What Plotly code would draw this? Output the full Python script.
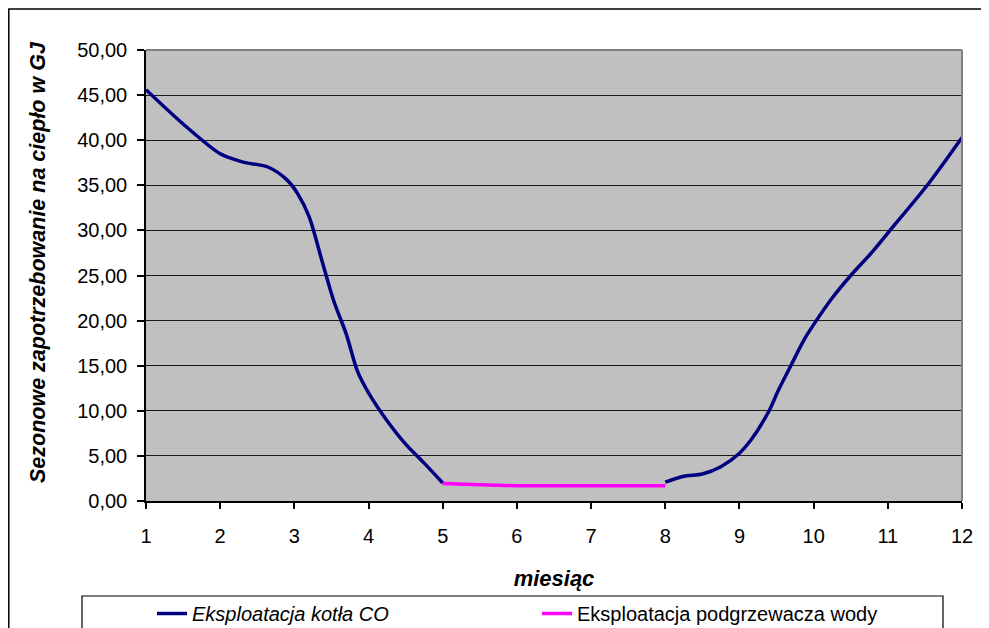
import plotly.graph_objects as go

# ---- data ----
months_co_winter = [1.0, 1.5, 2.0, 2.3, 2.65, 2.9, 3.05, 3.2, 3.37, 3.53, 3.7, 3.85, 4.0, 4.25, 4.5, 4.75, 5.0]
demand_co_winter = [45.6, 41.8, 38.5, 37.6, 37.0, 35.6, 34.0, 31.5, 26.7, 22.2, 18.5, 14.4, 12.0, 8.9, 6.3, 4.2, 2.0]

months_co_autumn = [8.0, 8.25, 8.5, 8.75, 9.0, 9.15, 9.4, 9.52, 9.68, 9.88, 10.02, 10.25, 10.5, 10.8, 11.03, 11.55, 12.0]
demand_co_autumn = [2.1, 2.75, 3.0, 3.8, 5.3, 6.7, 10.0, 12.2, 14.8, 18.0, 19.8, 22.5, 25.0, 27.7, 30.0, 35.2, 40.3]

months_water = [5.0, 5.5, 6.0, 7.0, 8.0]
demand_water = [1.95, 1.8, 1.7, 1.7, 1.7]

x_ticks = [1, 2, 3, 4, 5, 6, 7, 8, 9, 10, 11, 12]
y_ticks = [0, 5, 10, 15, 20, 25, 30, 35, 40, 45, 50]

name_co = "<i>Eksploatacja kotła CO</i>"
name_water = "Eksploatacja podgrzewacza wody"
x_title = "<b><i>miesiąc</i></b>"
y_title = "<b><i>Sezonowe zapotrzebowanie na ciepło w GJ</i></b>"

FONT = "Arial, 'Liberation Sans', sans-serif"
NAVY = "#000080"
PINK = "#FF00FF"

# page body has an 8px margin: figure is 981x620 placed at (8, 8)
W, H = 981, 620
PL, PR, PT, PB = 138, 27, 42, 127   # plot area 138..954 x 42..493 in figure px

co_x = months_co_winter + [None] + months_co_autumn
co_y = demand_co_winter + [None] + demand_co_autumn

fig = go.Figure()
fig.add_trace(go.Scatter(
    x=co_x, y=co_y, mode="lines", name=name_co,
    line=dict(color=NAVY, width=3.5, shape="spline", smoothing=0.8),
    connectgaps=False,
))
fig.add_trace(go.Scatter(
    x=months_water, y=demand_water, mode="lines", name=name_water,
    line=dict(color=PINK, width=3.5, shape="spline", smoothing=0.8),
))

def px_x(fx):  # figure px -> paper x
    return (fx - PL) / (W - PL - PR)

def px_y(fy):  # figure px -> paper y
    return (H - PB - fy) / (H - PT - PB)

fig.update_layout(
    width=W, height=H,
    margin=dict(l=PL, r=PR, t=PT, b=PB, autoexpand=False),
    paper_bgcolor="white",
    plot_bgcolor="#C0C0C0",
    separators=", ",
    font=dict(family=FONT, size=20, color="black"),
    showlegend=True,
    legend=dict(
        orientation="h",
        xref="container", yref="container",
        x=144 / W, xanchor="left",
        y=(H - 586) / H, yanchor="top",
        bgcolor="rgba(0,0,0,0)", borderwidth=0,
        font=dict(family=FONT, size=20, color="black"),
        entrywidth=340, entrywidthmode="pixels",
        traceorder="normal",
    ),
    xaxis=dict(
        range=[1, 12], tickmode="array", tickvals=x_ticks,
        ticktext=[str(v) for v in x_ticks],
        showgrid=False, zeroline=False,
        showline=True, linecolor="black", linewidth=1.5,
        ticks="outside", ticklen=6, tickcolor="black", tickwidth=1.5,
        ticklabelstandoff=10,
        tickfont=dict(family=FONT, size=20, color="black"),
        title=dict(text=x_title, font=dict(family=FONT, size=22, color="black"), standoff=25),
    ),
    yaxis=dict(
        range=[0, 50], tickmode="array", tickvals=y_ticks, tickformat=".2f",
        showgrid=True, gridcolor="#1a1a1a", gridwidth=1,
        zeroline=False,
        showline=True, linecolor="black", linewidth=1.5,
        ticks="outside", ticklen=7, tickcolor="black", tickwidth=1.5,
        ticklabelstandoff=6,
        tickfont=dict(family=FONT, size=20, color="black"),
    ),
    annotations=[
        dict(text=y_title, xref="paper", yref="paper",
             x=px_x(30), y=px_y(254), textangle=-90, showarrow=False,
             xanchor="center", yanchor="middle",
             font=dict(family=FONT, size=21.5, color="black")),
    ],
    shapes=[
        # outer chart frame
        dict(type="rect", xref="paper", yref="paper",
             x0=px_x(0.8), x1=1.2, y0=-0.5, y1=px_y(1),
             line=dict(color="black", width=1.5), fillcolor="rgba(0,0,0,0)", layer="below"),
        # legend box
        dict(type="rect", xref="paper", yref="paper",
             x0=px_x(74), x1=px_x(935), y0=-0.5, y1=px_y(588),
             line=dict(color="black", width=1.2), fillcolor="white", layer="below"),
        # plot-area border (top / right, grey)
        dict(type="line", xref="paper", yref="paper", x0=0, x1=1, y0=1, y1=1,
             line=dict(color="#808080", width=2)),
        dict(type="line", xref="paper", yref="paper", x0=1, x1=1, y0=0, y1=1,
             line=dict(color="#808080", width=2)),
    ],
)

fig.write_html("out.html")
